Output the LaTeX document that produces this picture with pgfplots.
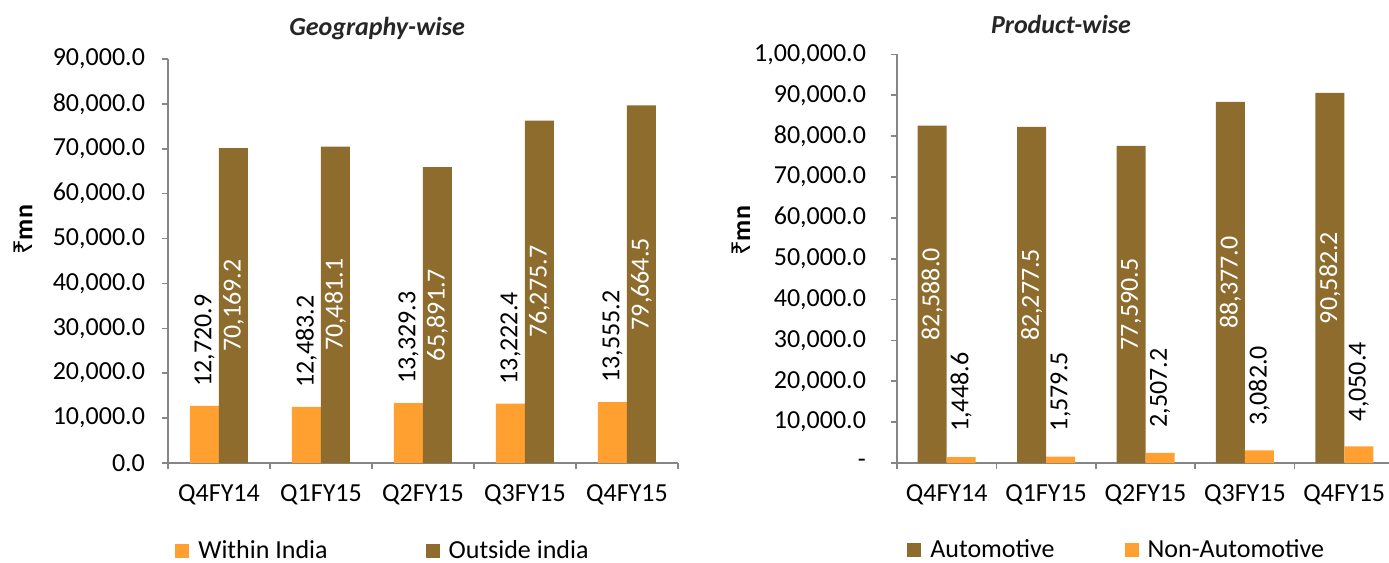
\documentclass[border=0pt]{standalone}
\usepackage{pgfplots}
\usepackage{pgfplotstable}
\pgfplotsset{compat=1.18}
\usepackage{fontspec}
\setmainfont{Carlito}
\newfontfamily\rupeefont{Noto Sans}
\definecolor{orng}{RGB}{255,160,48}
\definecolor{brwn}{RGB}{142,108,46}
\definecolor{axgray}{RGB}{134,134,134}
\definecolor{ttl}{RGB}{38,38,38}
\newcommand{\f}{\fontsize{13}{15}\selectfont}

\pgfplotstableread{
x within outside
0 12720.9 70169.2
1 12483.2 70481.1
2 13329.3 65891.7
3 13222.4 76275.7
4 13555.2 79664.5
}\geotab
\pgfplotstableread{
x auto nonauto
0 82588.0 1448.6
1 82277.5 1579.5
2 77590.5 2507.2
3 88377.0 3082.0
4 90582.2 4050.4
}\prodtab

\pgfplotsset{
  mybase/.style={
    scale only axis,
    anchor=south west,
    axis lines=left,
    axis line style={-, draw=axgray, line width=1pt},
    ybar=0pt,
    bar width=14.5pt,
    xmin=-0.5, xmax=4.5,
    ymin=0,
    scaled y ticks=false,
    xtick={-0.5,0.5,...,4.5},
    xticklabels={},
    extra x ticks={0,1,2,3,4},
    extra x tick labels={Q4FY14,Q1FY15,Q2FY15,Q3FY15,Q4FY15},
    extra x tick style={major tick length=0pt, tick label style={yshift=-7.5pt}},
    tick align=outside,
    major tick length=3pt,
    tick style={draw=axgray, line width=0.8pt},
    ticklabel style={font=\f, text=black},
    clip=false,
    legend image code/.code={\fill[##1] (0pt,-3.5pt) rectangle (7pt,3.5pt);},
    legend style={draw=none, fill=none, anchor=west, legend columns=2, font=\f, inner sep=0pt,
      nodes={inner xsep=4.5pt}},
    title style={anchor=center, yshift=9pt, font=\bfseries\itshape\f, text=ttl},
    ylabel style={anchor=center, font=\bfseries\f},
    every node near coord/.append style={font=\f,
      /pgf/number format/fixed, /pgf/number format/fixed zerofill,
      /pgf/number format/precision=1, /pgf/number format/1000 sep={,},
      /pgf/number format/assume math mode=true},
  }
}

\begin{document}
\begin{tikzpicture}
\begin{axis}[mybase,
  at={(84pt,50pt)}, width=255pt, height=202pt,
  ymax=90000,
  ytick={0,10000,...,90000},
  yticklabels={0.0,{10,000.0},{20,000.0},{30,000.0},{40,000.0},{50,000.0},{60,000.0},{70,000.0},{80,000.0},{90,000.0}},
  yticklabel style={xshift=-5pt},
  title={Geography-wise},
  title style={at={(axis description cs:0.41,1)}},
  ylabel={{\rupeefont\bfseries ₹}mn},
  ylabel style={at={(axis description cs:-0.284,0.577)}},
  legend style={at={(axis description cs:0.0137,-0.218)}, /tikz/every even column/.append style={column sep=44.5pt}},
]
\addplot[fill=orng, draw=none, bar shift=-7.25pt, nodes near coords,
  nodes near coords style={rotate=90, anchor=west, inner xsep=9.5pt, text=black}]
  table[x=x, y=within] {\geotab};
\addlegendentry{Within India}
\addplot[fill=brwn, draw=none, bar shift=7.25pt]
  table[x=x, y=outside] {\geotab};
\addlegendentry{Outside india}
\addplot[draw=none, fill=none, bar shift=7.25pt, forget plot, nodes near coords,
  point meta=\thisrow{outside},
  nodes near coords style={rotate=90, anchor=center, text=white}]
  table[x=x, y expr=\thisrow{outside}/2] {\geotab};
\end{axis}

\begin{axis}[mybase,
  at={(448.5pt,50pt)}, width=248.5pt, height=204.3pt,
  ymax=100000,
  ytick={0,10000,...,100000},
  yticklabels={{-\hspace{4.5pt}},{10,000.0},{20,000.0},{30,000.0},{40,000.0},{50,000.0},{60,000.0},{70,000.0},{80,000.0},{90,000.0},{1,00,000.0}},
  yticklabel style={xshift=-9pt},
  title={Product-wise},
  title style={at={(axis description cs:0.33,1)}},
  ylabel={{\rupeefont\bfseries ₹}mn},
  ylabel style={at={(axis description cs:-0.314,0.568)}},
  legend style={at={(axis description cs:0.02,-0.214)}, /tikz/every even column/.append style={column sep=30.5pt}},
]
\addplot[fill=brwn, draw=none, bar shift=-7.25pt]
  table[x=x, y=auto] {\prodtab};
\addlegendentry{Automotive}
\addplot[fill=orng, draw=none, bar shift=7.25pt, nodes near coords,
  nodes near coords style={rotate=90, anchor=west, inner xsep=12.5pt, text=black}]
  table[x=x, y=nonauto] {\prodtab};
\addlegendentry{Non-Automotive}
\addplot[draw=none, fill=none, bar shift=-7.25pt, forget plot, nodes near coords,
  point meta=\thisrow{auto},
  nodes near coords style={rotate=90, anchor=center, text=white}]
  table[x=x, y expr=\thisrow{auto}/2] {\prodtab};
\end{axis}
\pgfresetboundingbox
\useasboundingbox (0,0) rectangle (694.5pt,281.5pt);
\end{tikzpicture}
\end{document}
